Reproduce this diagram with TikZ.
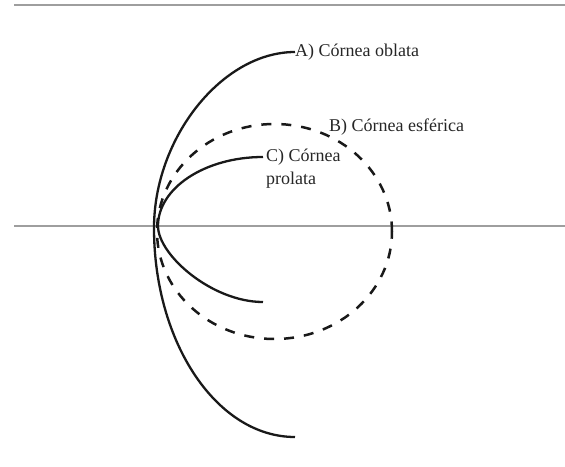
\documentclass[tikz,border=0pt]{standalone}
\usepackage{fontspec}
\setmainfont{Liberation Serif}
\begin{document}
\begin{tikzpicture}[x=1pt,y=-1pt,
  axisline/.style={draw=black!38,line width=1.2pt},
  curve/.style={draw=black!90,line width=2.3pt},
  dashcurve/.style={draw=black!90,line width=2.5pt,dash pattern=on 10pt off 10pt},
  lab/.style={inner sep=0pt,font=\fontsize{18}{23}\selectfont,text=black!85,align=left}]
\useasboundingbox (0,0) rectangle (565,466);
% axis lines
\coordinate (t1) at (14,5);
\coordinate (t2) at (565,5);
\coordinate (m1) at (14,226);
\coordinate (m2) at (565,226);
\draw[axisline] (t1) -- (t2);
\draw[axisline] (m1) -- (m2);
% B) spherical (dashed)
\coordinate (bc) at (274.5,231.5);
\draw[dashcurve] (bc) ellipse [x radius=117.5pt, y radius=107.5pt];
\node[lab,anchor=west] (labB) at (329,127) {B) Córnea esférica};
% A) oblate
\node[lab,anchor=west] (labA) at (295,52) {A) Córnea oblata};
\coordinate (aV) at (154,228);
\coordinate (aB) at (295,437);
\draw[curve] (labA.west) .. controls (222,52) and (154,138) .. (aV)
  .. controls (154,343) and (217,437) .. (aB);
% C) prolate
\node[lab,anchor=north west] (labC) at (266,149) {C) Córnea\\prolata};
\coordinate (cT) at (263,157);
\coordinate (cV) at (158,226);
\coordinate (cB) at (263,302);
\draw[curve] (cT) .. controls (205,157) and (158,188) .. (cV)
  .. controls (158,255) and (212,302) .. (cB);
\end{tikzpicture}
\end{document}
